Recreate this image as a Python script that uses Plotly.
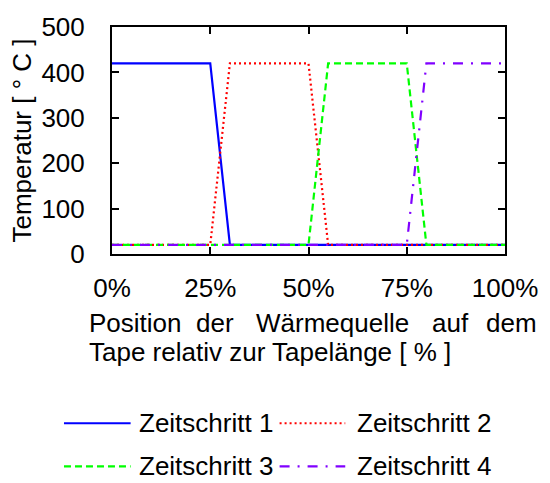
import plotly.graph_objects as go

# ---- data ----
positions = [0, 25, 30, 50, 55, 75, 80, 100]          # % of tape length
temp_step1 = [420, 420, 20, 20, 20, 20, 20, 20]
temp_step2 = [20, 20, 420, 420, 20, 20, 20, 20]
temp_step3 = [20, 20, 20, 20, 420, 420, 20, 20]
temp_step4 = [20, 20, 20, 20, 20, 20, 420, 420]
series_names = ["Zeitschritt 1", "Zeitschritt 2", "Zeitschritt 3", "Zeitschritt 4"]
x_ticks = [0, 25, 50, 75, 100]
y_ticks = [0, 100, 200, 300, 400, 500]

# ---- styles ----
colors = ["#0000FF", "#FF0000", "#00FF00", "#8000FF"]
dashes = ["solid", "2px,3px", "7px,4px", "10px,8px,2px,8px"]
FONT = "Liberation Sans, Arial, sans-serif"
FS = 26

W, H = 550, 483
L, R, T, B = 112, 37, 22, 229
PW, PH = W - L - R, H - T - B


def px(xpix):
    return (xpix - L) / PW


def py(ypix):
    return (H - B - ypix) / PH


fig = go.Figure()
for ys, name, c, d in zip([temp_step1, temp_step2, temp_step3, temp_step4],
                          series_names, colors, dashes):
    fig.add_trace(go.Scatter(x=positions, y=ys, mode="lines", name=name,
                             line=dict(color=c, width=2.2, dash=d),
                             showlegend=False))

axis_common = dict(showgrid=False, zeroline=False, showline=True, linecolor="black",
                   linewidth=2, mirror="ticks", ticks="inside", ticklen=7,
                   tickwidth=1.5, tickcolor="black",
                   tickfont=dict(family=FONT, size=FS, color="black"))

fig.update_xaxes(range=[0, 100], tickvals=x_ticks, ticktext=[f"{v}%" for v in x_ticks],
                 ticklabelstandoff=10, **axis_common)
fig.update_yaxes(range=[0, 500], tickvals=y_ticks, ticklabelstandoff=20,
                 title=dict(text="Temperatur [ ° C ]", standoff=2,
                            font=dict(family=FONT, size=FS, color="black")),
                 **axis_common)

annotations = []
# justified x-axis title, line 1
for word, xl in [("Position", 86), ("der", 196), ("Wärmequelle", 257),
                 ("auf", 436), ("dem", 492)]:
    annotations.append(dict(text=word, x=px(xl), y=py(325), xref="paper", yref="paper",
                            xanchor="left", yanchor="middle", showarrow=False,
                            font=dict(family=FONT, size=FS, color="black")))
annotations.append(dict(text="Tape relativ zur Tapelänge [ % ]", x=px(86), y=py(354),
                        xref="paper", yref="paper", xanchor="left", yanchor="middle",
                        showarrow=False, font=dict(family=FONT, size=FS, color="black")))

# custom legend (2 x 2)
shapes = []
legend_slots = [(63, 131, 427, 137), (283, 350, 427, 360),
                (63, 131, 471, 137), (283, 350, 471, 360)]
for (x0, x1, yy, xt), name, c, d in zip(legend_slots, series_names, colors, dashes):
    shapes.append(dict(type="line", xref="paper", yref="paper",
                       x0=px(x0), x1=px(x1), y0=py(yy), y1=py(yy),
                       line=dict(color=c, width=2.2, dash=d)))
    annotations.append(dict(text=name, x=px(xt), y=py(yy), xref="paper", yref="paper",
                            xanchor="left", yanchor="middle", showarrow=False,
                            font=dict(family=FONT, size=FS, color="black")))

fig.update_layout(width=W, height=H, margin=dict(l=L, r=R, t=T, b=B),
                  paper_bgcolor="white", plot_bgcolor="white",
                  font=dict(family=FONT, size=FS, color="black"),
                  annotations=annotations, shapes=shapes, showlegend=False)

fig.write_html("out.html")
